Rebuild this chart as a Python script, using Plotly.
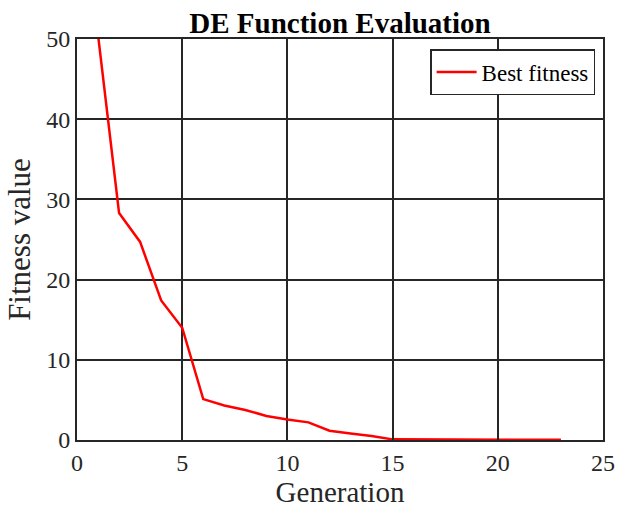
import plotly.graph_objects as go

# Best fitness per generation of the differential evolution run
generations = list(range(1, 24))
best_fitness = [50.5, 28.3, 24.7, 17.4, 14.0, 5.1, 4.3, 3.75, 3.0, 2.55, 2.2,
                1.15, 0.8, 0.5, 0.08, 0.06, 0.05, 0.05, 0.04, 0.04, 0.03, 0.03, 0.03]

x_ticks = [0, 5, 10, 15, 20, 25]
y_ticks = [0, 10, 20, 30, 40, 50]

font_family = "Liberation Serif, Times New Roman, serif"
grid_color = "#262626"

fig = go.Figure()
fig.add_trace(go.Scatter(
    x=generations, y=best_fitness, mode="lines", name="Best fitness",
    line=dict(color="#ff0000", width=2.5),
))

axis_common = dict(
    showgrid=True, gridcolor=grid_color, gridwidth=2,
    showline=True, linecolor=grid_color, linewidth=2, mirror="ticks",
    ticks="inside", ticklen=6, tickwidth=1.5, tickcolor=grid_color,
    zeroline=False, automargin=False,
    tickfont=dict(family=font_family, size=24, color="#262626"),
)

fig.update_layout(
    width=619, height=512,
    margin=dict(l=77, r=16, t=39, b=72),
    paper_bgcolor="white", plot_bgcolor="white",
    title=dict(text="<b>DE Function Evaluation</b>", x=0.5, xref="paper",
               y=1, yref="paper", yanchor="bottom", pad=dict(b=6),
               automargin=False,
               font=dict(family=font_family, size=29, color="black")),
    xaxis=dict(range=[0, 25], tickvals=x_ticks,
               title=dict(text="Generation", standoff=2,
                          font=dict(family=font_family, size=29, color="#262626")),
               **axis_common),
    yaxis=dict(range=[0, 50], tickvals=y_ticks,
               title=dict(text="Fitness value", standoff=6,
                          font=dict(family=font_family, size=31, color="#262626")),
               **axis_common),
    legend=dict(x=0.985, xanchor="right", y=0.975, yanchor="top",
                bgcolor="white", bordercolor="#262626", borderwidth=1.5,
                font=dict(family=font_family, size=23, color="black"),
                itemwidth=40, tracegroupgap=0),
    showlegend=True,
)

fig.write_html("out.html")
